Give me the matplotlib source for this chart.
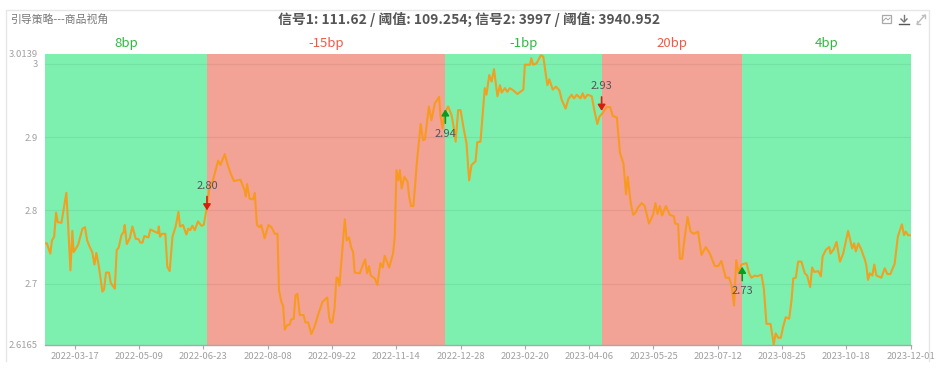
"""引导策略 chart: price line with long/short regions and signal arrows"""

import matplotlib

matplotlib.use("Agg")
import matplotlib.pyplot as plt
from matplotlib.lines import Line2D
from matplotlib.patches import Rectangle

FONT = ["Noto Sans CJK SC", "DejaVu Sans"]
plt.rcParams["font.family"] = FONT

TITLE = "信号1: 111.62 / 阈值: 109.254; 信号2: 3997 / 阈值: 3940.952"
SUBTITLE = "引导策略---商品视角"

# trading day number since the first point, and the series
days = [
    0, 1, 2.6, 3.4, 4.4, 5.3, 6.1, 7.8, 10.1, 10.9, 12, 12.9, 13.5, 15.6, 17.6, 18.8, 19.8, 21, 22.2, 23.2,
    24.1, 25.3, 26.9, 27.7, 28.6, 30, 30.8, 32.7, 33.6, 34.5, 35.8, 36.9, 37.3, 38.3, 39.7, 40.9, 42.5, 43.7, 44.6, 45.6,
    46.5, 48.4, 49.3, 51.3, 52.9, 53.2, 53.8, 54.7, 56.3, 57.2, 58.3, 59.6, 61.1, 62.4, 63.1, 64.5, 66.1, 67, 67.9, 68.9,
    70, 71.5, 73.1, 74.2, 75.7, 76.7, 78.5, 80.9, 82, 84, 85.2, 86.8, 88.3, 91.3, 93.3, 93.8, 94.4, 95.6, 97.2, 98,
    99, 100.3, 101, 102.6, 104.4, 105.8, 107.3, 108.6, 109.3, 110.4, 111.2, 112, 113, 114.3, 115, 116.2, 117, 117.9, 119, 120.8,
    121.6, 122.9, 124.4, 126, 127.5, 129.6, 131.8, 132.7, 133.3, 134.2, 135.2, 136.1, 136.7, 137.5, 138.6, 140, 140.9, 142, 142.9, 143.9,
    144.6, 147, 148.5, 149.5, 150.4, 151.3, 152.1, 154, 155.2, 156.6, 157.7, 158.6, 160.7, 162.5, 163.3, 164.1, 165, 165.7, 166.5, 167.8,
    169.3, 170, 170.9, 172, 172.6, 173.7, 175.4, 176.5, 177.4, 179.2, 180.4, 182, 184, 184.6, 185.6, 186.4, 188.2, 189.8, 190.9, 191.7,
    192.9, 194, 195.2, 196.8, 198, 199.1, 201, 201.8, 203.3, 205.3, 206.1, 207.4, 208.5, 209.6, 211.2, 212.4, 213.2, 214.7, 215.8, 217,
    218.6, 220.5, 223.3, 224, 226.4, 227, 227.9, 229.5, 231.5, 232.6, 233.4, 234.5, 235.4, 237, 238.5, 240.1, 241.2, 243, 244.3, 245.8,
    246.9, 248.2, 250, 251, 251.9, 253.2, 255.2, 256.4, 257.8, 258.8, 260, 262.2, 263.8, 265, 266.9, 268.4, 270, 271.2, 272, 273.4,
    274.5, 275.7, 276.8, 278.5, 279.9, 281.9, 283.8, 284.9, 285.9, 287, 288, 289.8, 291.6, 293.5, 294.1, 295.5, 296.3, 297.4, 298.6, 299.9,
    301.3, 302.8, 304.8, 306.4, 308.4, 310.3, 312.6, 314.2, 315.7, 317.7, 319.3, 320.4, 321.6, 322.6, 323.8, 325, 327.4, 328.6, 329.7, 331.3,
    332.3, 334.4, 335.5, 336.7, 338.6, 340.1, 341, 342.2, 343.4, 344.5, 345.7, 347.3, 348.4, 349.2, 350.4, 351.5, 353, 354.6, 355.7, 357.1,
    358, 359, 360.9, 362.1, 362.9, 364.4, 366, 366.6, 368.1, 369.4, 371, 372.5, 374.8, 376.7, 377.6, 378.4, 379.6, 381, 382.6, 383.3,
    384.1, 384.9, 386.1, 387, 388, 390.3, 391.9, 393.1, 394.5, 396.5, 398, 399.9, 400.9, 401.7, 402.8, 404,
]
values = [
    2.755, 2.755, 2.741, 2.759, 2.764, 2.797, 2.784, 2.783, 2.824, 2.782, 2.718, 2.772, 2.743, 2.753, 2.775, 2.777, 2.759, 2.750, 2.743, 2.726,
    2.742, 2.723, 2.689, 2.692, 2.715, 2.715, 2.701, 2.693, 2.746, 2.749, 2.766, 2.771, 2.780, 2.754, 2.762, 2.778, 2.761, 2.761, 2.756, 2.756,
    2.765, 2.763, 2.774, 2.771, 2.769, 2.778, 2.764, 2.768, 2.768, 2.723, 2.717, 2.764, 2.778, 2.798, 2.778, 2.780, 2.767, 2.775, 2.773, 2.779,
    2.773, 2.785, 2.779, 2.780, 2.805, 2.828, 2.841, 2.868, 2.862, 2.877, 2.864, 2.850, 2.840, 2.842, 2.827, 2.819, 2.836, 2.816, 2.815, 2.824,
    2.780, 2.777, 2.780, 2.762, 2.780, 2.777, 2.768, 2.768, 2.691, 2.675, 2.670, 2.637, 2.643, 2.644, 2.651, 2.652, 2.684, 2.686, 2.657, 2.657,
    2.647, 2.647, 2.631, 2.642, 2.657, 2.675, 2.681, 2.654, 2.647, 2.647, 2.666, 2.708, 2.708, 2.697, 2.737, 2.788, 2.759, 2.763, 2.750, 2.743,
    2.715, 2.714, 2.726, 2.733, 2.714, 2.724, 2.711, 2.707, 2.698, 2.728, 2.722, 2.738, 2.722, 2.741, 2.764, 2.855, 2.841, 2.855, 2.830, 2.846,
    2.839, 2.819, 2.806, 2.806, 2.827, 2.868, 2.918, 2.896, 2.897, 2.942, 2.923, 2.946, 2.955, 2.930, 2.912, 2.932, 2.942, 2.930, 2.912, 2.894,
    2.937, 2.937, 2.916, 2.891, 2.841, 2.862, 2.867, 2.893, 2.894, 2.967, 2.958, 2.985, 2.976, 2.993, 2.956, 2.971, 2.961, 2.967, 2.962, 2.967,
    2.964, 2.959, 2.965, 2.999, 2.999, 3.008, 2.999, 3.001, 3.012, 3.010, 2.994, 2.971, 2.979, 2.965, 2.969, 2.964, 2.951, 2.939, 2.952, 2.958,
    2.953, 2.958, 2.953, 2.960, 2.953, 2.958, 2.956, 2.937, 2.918, 2.928, 2.932, 2.941, 2.941, 2.929, 2.927, 2.878, 2.864, 2.822, 2.846, 2.810,
    2.794, 2.797, 2.804, 2.810, 2.806, 2.782, 2.794, 2.810, 2.795, 2.806, 2.793, 2.806, 2.794, 2.792, 2.782, 2.781, 2.734, 2.734, 2.764, 2.791,
    2.771, 2.768, 2.771, 2.739, 2.750, 2.741, 2.724, 2.724, 2.731, 2.708, 2.708, 2.698, 2.670, 2.732, 2.714, 2.726, 2.728, 2.714, 2.708, 2.711,
    2.710, 2.712, 2.693, 2.645, 2.645, 2.617, 2.632, 2.626, 2.626, 2.641, 2.654, 2.652, 2.677, 2.707, 2.708, 2.730, 2.730, 2.714, 2.711, 2.695,
    2.722, 2.716, 2.717, 2.710, 2.737, 2.746, 2.750, 2.741, 2.747, 2.757, 2.730, 2.741, 2.772, 2.748, 2.755, 2.744, 2.755, 2.746, 2.733, 2.725,
    2.705, 2.714, 2.711, 2.726, 2.711, 2.708, 2.721, 2.713, 2.713, 2.727, 2.764, 2.781, 2.766, 2.771, 2.766, 2.766,
]

# holding periods: boundaries in trading days, return label and direction of each
period_edges = [0, 75.7, 186.9, 259.8, 325.4, 404]
period_labels = ["8bp", "-15bp", "-1bp", "20bp", "4bp"]
period_up = [True, False, True, False, True]

# signals at the period changes
signal_days = [75.7, 186.9, 259.8, 325.4]
signal_tips = [2.80, 2.938, 2.936, 2.723]
signal_labels = ["2.80", "2.94", "2.93", "2.73"]
signal_up = [False, True, False, True]

tick_days = [14, 44, 74, 104, 134, 164, 194, 224, 254, 284, 314, 344, 374, 404]
tick_labels = [
    "2022-03-17", "2022-05-09", "2022-06-23", "2022-08-08", "2022-09-22", "2022-11-14", "2022-12-28",
    "2023-02-20", "2023-04-06", "2023-05-25", "2023-07-12", "2023-08-25", "2023-10-18", "2023-12-01",
]
y_ticks = [2.6165, 2.7, 2.8, 2.9, 3, 3.0139]
y_labels = ["2.6165", "2.7", "2.8", "2.9", "3", "3.0139"]
grid_levels = [2.7, 2.8, 2.9, 3]

W, H = 937, 375
GREEN_BG, RED_BG = "#7df0b0", "#f2a396"
GREEN_TXT, RED_TXT = "#2fb83e", "#ee5a48"


def frame_and_icons(fig):
    # panel border and the toolbox icons, drawn in pixel coordinates
    over = fig.add_axes([0, 0, 1, 1], zorder=5)
    over.set_xlim(0, W)
    over.set_ylim(H, 0)
    over.axis("off")
    edge = "#e6e6e6"
    over.add_line(Line2D([6.5, 6.5, 929, 929], [361, 10, 10, 361], color=edge, lw=1))
    ic = "#a9a9a9"
    over.add_patch(Rectangle((882, 15), 9, 8, fill=False, ec=ic, lw=0.9))
    over.add_line(Line2D([883, 886, 888, 890], [21, 18, 20, 18], color=ic, lw=0.7))
    over.add_line(Line2D([904, 904], [15, 21], color="#777777", lw=1))
    over.add_line(Line2D([901, 904, 907], [19, 22, 19], color="#777777", lw=1))
    over.add_line(Line2D([899, 909], [24, 24], color="#555555", lw=1))
    over.add_line(Line2D([917, 925], [24, 15], color="#bdbdbd", lw=1))
    over.add_line(Line2D([917, 917, 920], [21, 24, 24], color="#bdbdbd", lw=1))
    over.add_line(Line2D([922, 925, 925], [15, 15, 18], color="#bdbdbd", lw=1))


def main():
    fig = plt.figure(figsize=(W / 100, H / 100), dpi=100, facecolor="white")
    left, right, top, bottom = 44.7, 910.7, 53.8, 344.7
    ax = fig.add_axes([left / W, 1 - bottom / H, (right - left) / W, (bottom - top) / H])
    ax.set_xlim(0, 404)
    ax.set_ylim(2.6165, 3.0139)

    for i, lab in enumerate(period_labels):
        x0, x1 = period_edges[i], period_edges[i + 1]
        ax.axvspan(x0, x1, color=GREEN_BG if period_up[i] else RED_BG, lw=0, zorder=1)
        ax.annotate(
            lab,
            xy=((x0 + x1) / 2, 1),
            xycoords=("data", "axes fraction"),
            xytext=(0, 2.5),
            textcoords="offset points",
            ha="center",
            va="bottom",
            fontsize=9.5,
            color=GREEN_TXT if period_up[i] else RED_TXT,
        )

    for lev in grid_levels:
        ax.axhline(lev, color="#000000", alpha=0.06, lw=0.9, zorder=2)

    ax.plot(days, values, color="#f99a17", lw=1.5, alpha=0.92, zorder=3, solid_joinstyle="round")

    for d, tip, lab, up in zip(signal_days, signal_tips, signal_labels, signal_up):
        sign = -1 if up else 1  # tail below the tip for a long signal
        ax.annotate(
            "",
            xy=(d, tip),
            xytext=(0, sign * 10),
            textcoords="offset points",
            arrowprops=dict(
                arrowstyle="-|>,head_width=0.22,head_length=0.35",
                color="#0a9c1e" if up else "#d81e0b",
                lw=1.2,
                shrinkA=0,
                shrinkB=0,
            ),
            zorder=4,
        )
        ax.annotate(
            lab,
            xy=(d, tip),
            xytext=(0, sign * 14),
            textcoords="offset points",
            ha="center",
            va="top" if up else "bottom",
            fontsize=8,
            color="#555555",
            zorder=4,
            annotation_clip=False,
        )

    for s in ["top", "right", "left"]:
        ax.spines[s].set_visible(False)
    ax.spines["bottom"].set_color("#a8a8a8")
    ax.spines["bottom"].set_linewidth(1)
    ax.set_xticks(tick_days)
    ax.set_xticklabels(tick_labels, fontsize=6.8, color="#a0a0a0")
    ax.set_yticks(y_ticks)
    ax.set_yticklabels(y_labels, fontsize=6.8, color="#a0a0a0")
    ax.tick_params(axis="x", length=3, width=0.8, color="#a8a8a8", pad=2)
    ax.tick_params(axis="y", length=0, pad=5)

    fig.text(469 / W, 1 - 19 / H, TITLE, ha="center", va="center", fontsize=10, fontweight="bold", color="#555555")
    fig.text(10 / W, 1 - 19 / H, SUBTITLE, ha="left", va="center", fontsize=7.8, color="#777777")
    frame_and_icons(fig)

    fig.savefig("out.png", dpi=100)
    plt.close(fig)


if __name__ == "__main__":
    assert len(days) == len(values)
    main()
